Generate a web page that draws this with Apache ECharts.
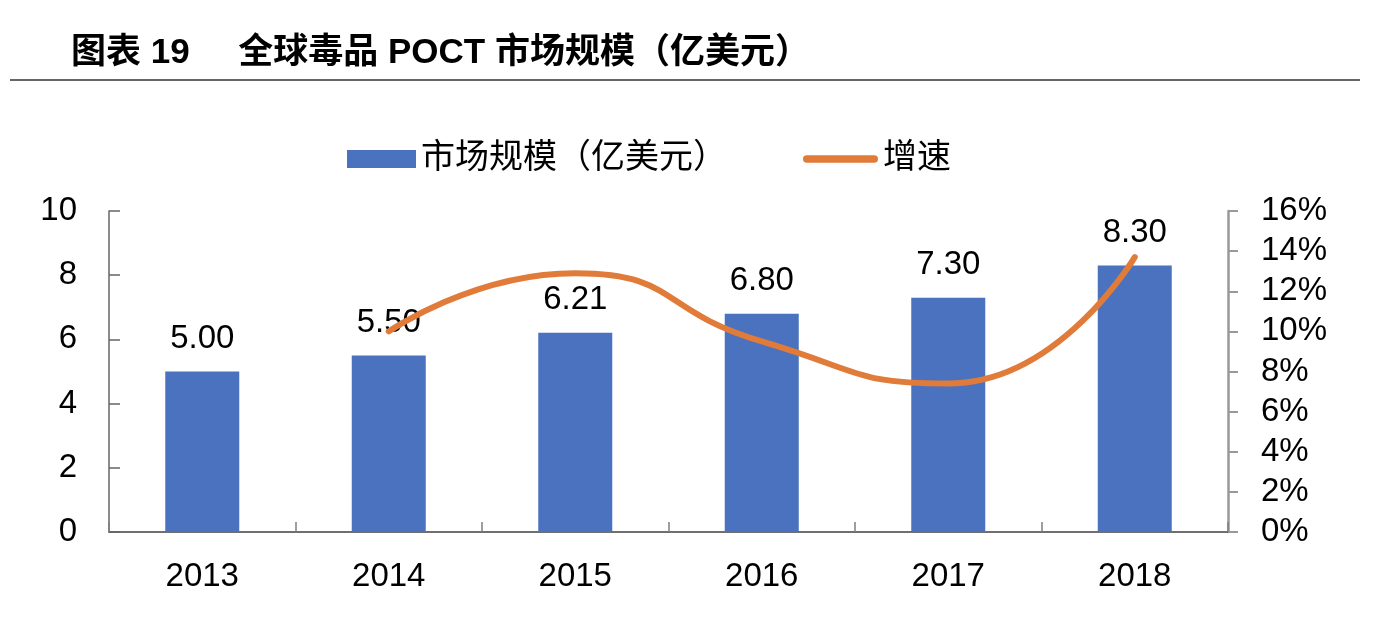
<!DOCTYPE html>
<html>
<head>
<meta charset="utf-8">
<script src="https://cdn.jsdelivr.net/npm/echarts@6/dist/echarts.min.js"></script>
<style>html,body{margin:0;padding:0;background:#fff;}#c{width:1374px;height:628px;}</style>
</head>
<body>
<div id="c"></div>
<script>
var categories = ['2013', '2014', '2015', '2016', '2017', '2018'];
var marketSize = [5.00, 5.50, 6.21, 6.80, 7.30, 8.30];
var growthRate = [null, 10.0, 12.9, 9.5, 7.4, 13.7];
var leftTicks = {min: 0, max: 10, interval: 2};
var rightTicks = {min: 0, max: 16, interval: 2};

var FONT = '"Liberation Sans", Arial, "Noto Sans CJK SC", sans-serif';
var chart = echarts.init(document.getElementById('c'), null, {renderer: 'canvas'});
chart.setOption({
  backgroundColor: '#fff',
  animation: false,
  title: {
    text: '图表 19     全球毒品 POCT 市场规模（亿美元）',
    left: 71, top: 36, padding: 0,
    textStyle: {fontFamily: FONT, fontSize: 35, fontWeight: 'bold', color: '#000'}
  },
  graphic: [{
    type: 'line', shape: {x1: 10, y1: 80, x2: 1360, y2: 80},
    style: {stroke: '#333', lineWidth: 1.5}
  }],
  legend: [{
    left: 347, top: 142, padding: 0,
    itemWidth: 69, itemHeight: 18,
    textStyle: {fontFamily: FONT, fontSize: 34, color: '#000'},
    data: [{name: '市场规模（亿美元）', icon: 'rect'}]
  }, {
    left: 803, top: 142, padding: 0,
    itemWidth: 75, itemHeight: 8,
    textStyle: {fontFamily: FONT, fontSize: 34, color: '#000'},
    data: [{name: '增速', icon: 'path://M5,0 L95,0 A5,5 0 0 1 95,10 L5,10 A5,5 0 0 1 5,0 Z'}]
  }],
  grid: {left: 109, right: 146, top: 211, bottom: 96, containLabel: false},
  xAxis: {
    type: 'category', data: categories,
    axisLine: {lineStyle: {color: '#404040', width: 1.5}},
    axisTick: {show: true, inside: true, length: 10, alignWithLabel: false, lineStyle: {color: '#7f7f7f', width: 1.5}},
    axisLabel: {fontFamily: FONT, fontSize: 33, color: '#000', margin: 28}
  },
  yAxis: [{
    type: 'value', min: leftTicks.min, max: leftTicks.max, interval: leftTicks.interval,
    splitLine: {show: false},
    axisLine: {show: true, lineStyle: {color: '#666', width: 1.5}},
    axisTick: {show: true, inside: true, length: 11, lineStyle: {color: '#666', width: 1.5}},
    axisLabel: {fontFamily: FONT, fontSize: 33, color: '#000', margin: 32}
  }, {
    type: 'value', min: rightTicks.min, max: rightTicks.max, interval: rightTicks.interval,
    position: 'right',
    splitLine: {show: false},
    axisLine: {show: true, lineStyle: {color: '#999', width: 2.5}},
    axisTick: {show: true, inside: false, length: 10, lineStyle: {color: '#999', width: 2}},
    axisLabel: {fontFamily: FONT, fontSize: 33, color: '#000', margin: 33, formatter: '{value}%'}
  }],
  series: [{
    name: '市场规模（亿美元）', type: 'bar', data: marketSize, barWidth: 74,
    itemStyle: {color: '#4A72BE'},
    label: {show: true, position: 'top', distance: 16, fontFamily: FONT, fontSize: 33, color: '#000',
      formatter: function (p) { return p.value.toFixed(2); }}
  }, {
    name: '增速', type: 'line', yAxisIndex: 1, data: growthRate, smooth: 0.55,
    symbol: 'none', connectNulls: false,
    lineStyle: {color: '#E07B39', width: 6, cap: 'round'},
    itemStyle: {color: '#E07B39'}
  }]
});
</script>
</body>
</html>
